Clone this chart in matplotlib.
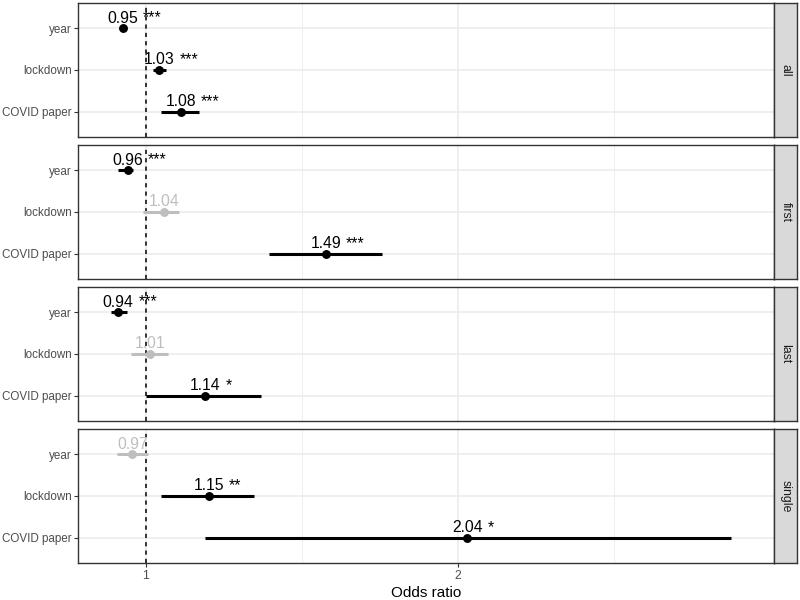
import matplotlib
matplotlib.use("Agg")
import matplotlib.pyplot as plt
from matplotlib.ticker import FixedLocator, NullFormatter

plt.rcParams['font.family'] = ['Liberation Sans', 'DejaVu Sans']
plt.rcParams['lines.scale_dashes'] = False

# ---- data ----
groups = ["all", "first", "last", "single"]
predictors = ["year", "lockdown", "COVID paper"]
odds = [
    [0.95, 1.03, 1.08],
    [0.96, 1.04, 1.49],
    [0.94, 1.01, 1.14],
    [0.97, 1.15, 2.04],
]
ci_low = [
    [0.945, 1.016, 1.034],
    [0.940, 0.994, 1.313],
    [0.926, 0.967, 1.000],
    [0.937, 1.034, 1.139],
]
ci_high = [
    [0.955, 1.045, 1.125],
    [0.971, 1.075, 1.690],
    [0.959, 1.049, 1.290],
    [1.004, 1.270, 3.660],
]
stars = [
    ["***", "***", "***"],
    ["***", "", "***"],
    ["***", "", "*"],
    ["", "**", "*"],
]
x_ticks = [1, 2]
x_label = "Odds ratio"

# ---- layout ----
W, H = 800, 600
fig = plt.figure(figsize=(W / 100, H / 100), dpi=100)
left, right = 78, 774
strip_w = 23
top0, bottom = 3, 563
gap = 8
ph = (bottom - top0 - 3 * gap) / 4

sig_col = "black"
ns_col = "#BEBEBE"
ypos = [3, 2, 1]

for i, g in enumerate(groups):
    top = top0 + i * (ph + gap)
    ax = fig.add_axes([left / W, 1 - (top + ph) / H, (right - left) / W, ph / H])
    ax.set_xscale('log')
    ax.set_xlim(0.86, 4.03)
    ax.set_ylim(0.4, 3.6)
    ax.xaxis.set_major_locator(FixedLocator(x_ticks))
    ax.xaxis.set_minor_locator(FixedLocator([2 ** 0.5, 2 * 2 ** 0.5]))
    ax.xaxis.set_minor_formatter(NullFormatter())
    ax.set_xticklabels([str(t) for t in x_ticks])
    ax.set_yticks(ypos)
    ax.set_yticklabels(predictors)
    ax.grid(which='major', color='#EBEBEB', lw=1.1, zorder=0)
    ax.grid(which='minor', color='#EBEBEB', lw=0.55, zorder=0)
    ax.set_axisbelow(True)
    for sp in ax.spines.values():
        sp.set_color('#333333')
        sp.set_linewidth(1.0)
    ax.tick_params(axis='both', which='major', length=2.75, width=0.8,
                   color='#333333', labelsize=8.4, labelcolor='#4D4D4D', pad=1.5)
    ax.tick_params(axis='x', which='major', labelsize=8.8, pad=2.2)
    ax.tick_params(axis='x', which='minor', length=0)
    if i < len(groups) - 1:
        ax.tick_params(axis='x', which='major', length=0, labelbottom=False)
    else:
        ax.set_xlabel(x_label, fontsize=11, color='black', labelpad=3)

    ax.axvline(1, color='black', lw=1.1, dashes=(3, 3), zorder=2)

    for j in range(3):
        col = sig_col if stars[i][j] else ns_col
        y = ypos[j]
        ax.plot([ci_low[i][j], ci_high[i][j]], [y, y], color=col, lw=2.2,
                solid_capstyle='butt', zorder=3)
        ax.plot([odds[i][j]], [y], 'o', color=col, ms=5.4, zorder=4)
        txt = ax.annotate(f"{odds[i][j]:.2f}", xy=(odds[i][j], y),
                          xytext=(0, 4), textcoords='offset points',
                          ha='center', va='baseline', fontsize=11.3, color=col,
                          zorder=5)
        if stars[i][j]:
            ax.annotate(stars[i][j], xy=(1, 0), xycoords=txt,
                        xytext=(3.6, 0), textcoords='offset points',
                        ha='left', va='bottom', fontsize=11.3, color=col,
                        zorder=5)

    # strip
    sax = fig.add_axes([right / W, 1 - (top + ph) / H, strip_w / W, ph / H])
    sax.set_facecolor('#D9D9D9')
    sax.set_xticks([])
    sax.set_yticks([])
    for sp in sax.spines.values():
        sp.set_color('#333333')
        sp.set_linewidth(1.0)
    sax.text(0.5, 0.5, g, rotation=270, ha='center', va='center',
             fontsize=8.8, color='#1A1A1A', transform=sax.transAxes)

fig.savefig("out.png", dpi=100)
